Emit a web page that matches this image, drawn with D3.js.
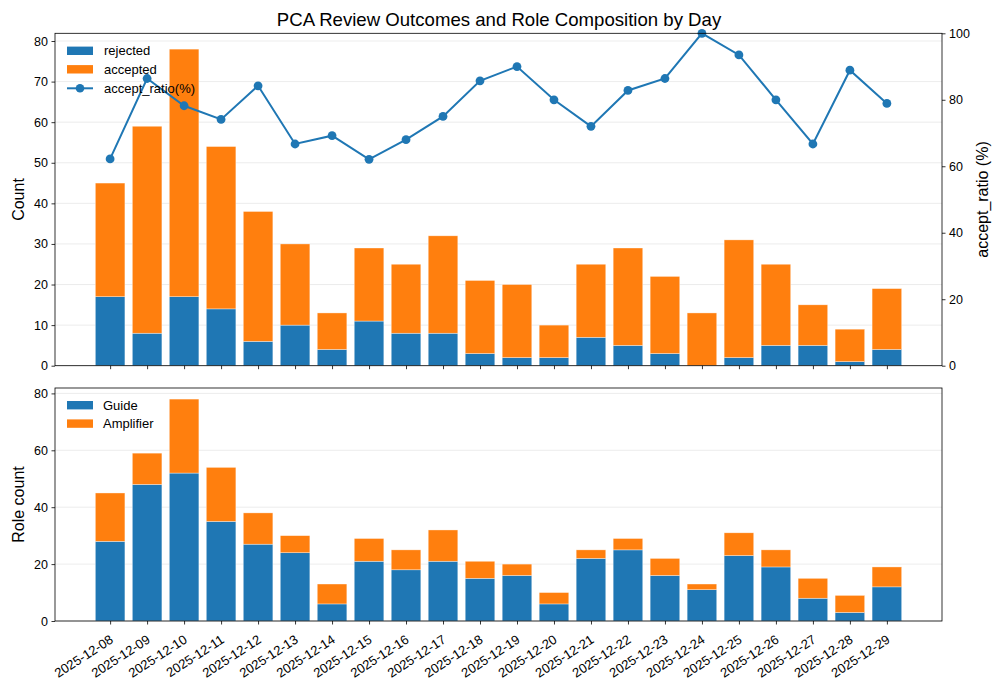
<!DOCTYPE html>
<html>
<head>
<meta charset="utf-8">
<script src="https://cdn.jsdelivr.net/npm/d3@7/dist/d3.min.js"></script>
<style>
  body { margin: 0; background: #fff; }
  svg { display: block; font-family: "Liberation Sans", Arial, sans-serif; }
</style>
</head>
<body>
<svg id="chart" width="995" height="682"></svg>
<script>
const dates = ["2025-12-08","2025-12-09","2025-12-10","2025-12-11","2025-12-12","2025-12-13","2025-12-14",
  "2025-12-15","2025-12-16","2025-12-17","2025-12-18","2025-12-19","2025-12-20","2025-12-21",
  "2025-12-22","2025-12-23","2025-12-24","2025-12-25","2025-12-26","2025-12-27","2025-12-28","2025-12-29"];
const rejected = [17, 8, 17, 14, 6, 10, 4, 11, 8, 8, 3, 2, 2, 7, 5, 3, 0, 2, 5, 5, 1, 4];
const accepted = [28, 51, 61, 40, 32, 20, 9, 18, 17, 24, 18, 18, 8, 18, 24, 19, 13, 29, 20, 10, 8, 15];
const acceptRatio = [62.2, 86.4, 78.2, 74.1, 84.2, 66.7, 69.2, 62.1, 68.0, 75.0, 85.7, 90.0, 80.0, 72.0,
  82.8, 86.4, 100.0, 93.5, 80.0, 66.7, 88.9, 78.9];
const guide = [28, 48, 52, 35, 27, 24, 6, 21, 18, 21, 15, 16, 6, 22, 25, 16, 11, 23, 19, 8, 3, 12];
const amplifier = [17, 11, 26, 19, 11, 6, 7, 8, 7, 11, 6, 4, 4, 3, 4, 6, 2, 8, 6, 7, 6, 7];
const countTicks = [0, 10, 20, 30, 40, 50, 60, 70, 80];
const ratioTicks = [0, 20, 40, 60, 80, 100];
const roleTicks = [0, 20, 40, 60, 80];

const BLUE = "#1f77b4", ORANGE = "#ff7f0e";
const svg = d3.select("#chart");
const L = 55, R = 942;
const top1 = 33.3, bot1 = 365.7, top2 = 388, bot2 = 621;
const n = dates.length;
const barW = 0.8;
const pad = 0.05 * (n - 1 + barW);
const x = d3.scaleLinear().domain([-barW / 2 - pad, n - 1 + barW / 2 + pad]).range([L, R]);
const bw = x(barW) - x(0);
const totals = rejected.map((r, i) => r + accepted[i]);
const ymax = d3.max(totals) * 1.05;
const y1 = d3.scaleLinear().domain([0, ymax]).range([bot1, top1]);
const yR = d3.scaleLinear().domain([0, 100]).range([bot1, top1]);
const roleTotals = guide.map((g, i) => g + amplifier[i]);
const y2 = d3.scaleLinear().domain([0, d3.max(roleTotals) * 1.05]).range([bot2, top2]);
const TICK_FS = 12.5;

// title
svg.append("text").attr("x", 499).attr("y", 26).attr("text-anchor", "middle")
  .attr("font-size", 18.6).attr("fill", "#000").text("PCA Review Outcomes and Role Composition by Day");

function grid(g, scale, ticks) {
  g.selectAll("line.grid").data(ticks).join("line").attr("class", "grid")
    .attr("x1", L).attr("x2", R).attr("y1", d => scale(d)).attr("y2", d => scale(d))
    .attr("stroke", "#b0b0b0").attr("stroke-opacity", 0.3).attr("stroke-width", 0.8);
}
function styleAxis(g) {
  g.select(".domain").remove();
  g.selectAll(".tick line").attr("stroke", "#000").attr("stroke-width", 0.8);
  g.selectAll(".tick text").attr("font-size", TICK_FS).attr("fill", "#000").attr("font-family", "Liberation Sans, Arial, sans-serif");
}
function stacked(g, lower, upper, scale) {
  const edge = (sel) => sel.attr("stroke", "#fff").attr("stroke-width", 0.6).attr("stroke-opacity", 0.6);
  g.selectAll("rect.lo").data(lower).join("rect").attr("class", "lo")
    .attr("x", (d, i) => x(i) - bw / 2).attr("width", bw)
    .attr("y", d => scale(d)).attr("height", d => scale(0) - scale(d)).attr("fill", BLUE).call(edge);
  g.selectAll("rect.up").data(upper).join("rect").attr("class", "up")
    .attr("x", (d, i) => x(i) - bw / 2).attr("width", bw)
    .attr("y", (d, i) => scale(lower[i] + d)).attr("height", (d, i) => scale(lower[i]) - scale(lower[i] + d))
    .attr("fill", ORANGE).call(edge);
}

// ---- top panel
const p1 = svg.append("g");
grid(p1, y1, countTicks);
stacked(p1, rejected, accepted, y1);

// legend top
const lg1 = svg.append("g").attr("font-size", 13);
[["rejected", BLUE], ["accepted", ORANGE]].forEach(([t, c], k) => {
  const cy = 50.8 + k * 18.5;
  lg1.append("rect").attr("x", 67).attr("y", cy - 4.2).attr("width", 26).attr("height", 8.4).attr("fill", c);
  lg1.append("text").attr("x", 104).attr("y", cy + 4.6).text("" + t);
});
{
  const cy = 88.3;
  lg1.append("line").attr("x1", 67).attr("x2", 93).attr("y1", cy).attr("y2", cy).attr("stroke", BLUE).attr("stroke-width", 2);
  lg1.append("circle").attr("cx", 80).attr("cy", cy).attr("r", 4.3).attr("fill", BLUE);
  lg1.append("text").attr("x", 104).attr("y", cy + 4.6).text("accept_ratio(%)");
}

// line
const line = d3.line().x((d, i) => x(i)).y(d => yR(d));
p1.append("path").datum(acceptRatio).attr("d", line).attr("fill", "none").attr("stroke", BLUE).attr("stroke-width", 2);
p1.selectAll("circle.pt").data(acceptRatio).join("circle").attr("class", "pt")
  .attr("cx", (d, i) => x(i)).attr("cy", d => yR(d)).attr("r", 4.4).attr("fill", BLUE);

svg.append("rect").attr("x", L).attr("y", top1).attr("width", R - L).attr("height", bot1 - top1)
  .attr("fill", "none").attr("stroke", "#000").attr("stroke-width", 0.8);
svg.append("g").attr("transform", `translate(${L},0)`)
  .call(d3.axisLeft(y1).tickValues(countTicks).tickSize(3.5).tickPadding(3.5)).call(styleAxis);
svg.append("g").attr("transform", `translate(${R},0)`)
  .call(d3.axisRight(yR).tickValues(ratioTicks).tickSize(3.5).tickPadding(3.5)).call(styleAxis);
svg.append("g").attr("transform", `translate(0,${bot1})`)
  .call(d3.axisBottom(x).tickValues(d3.range(n)).tickSize(3.5).tickFormat(() => "")).call(styleAxis);

svg.append("text").attr("transform", `translate(23.5,${(top1 + bot1) / 2}) rotate(-90)`)
  .attr("text-anchor", "middle").attr("font-size", 16).text("Count");
svg.append("text").attr("transform", `translate(987.5,${(top1 + bot1) / 2}) rotate(-90)`)
  .attr("text-anchor", "middle").attr("font-size", 16).text("accept_ratio (%)");

// ---- bottom panel
const p2 = svg.append("g");
grid(p2, y2, roleTicks);
stacked(p2, guide, amplifier, y2);

const lg2 = svg.append("g").attr("font-size", 13);
[["Guide", BLUE], ["Amplifier", ORANGE]].forEach(([t, c], k) => {
  const cy = 405.2 + k * 18.4;
  lg2.append("rect").attr("x", 67).attr("y", cy - 4.2).attr("width", 26).attr("height", 8.4).attr("fill", c);
  lg2.append("text").attr("x", 103).attr("y", cy + 4.6).text(t);
});

svg.append("rect").attr("x", L).attr("y", top2).attr("width", R - L).attr("height", bot2 - top2)
  .attr("fill", "none").attr("stroke", "#000").attr("stroke-width", 0.8);
svg.append("g").attr("transform", `translate(${L},0)`)
  .call(d3.axisLeft(y2).tickValues(roleTicks).tickSize(3.5).tickPadding(3.5)).call(styleAxis);
const xb = svg.append("g").attr("transform", `translate(0,${bot2})`)
  .call(d3.axisBottom(x).tickValues(d3.range(n)).tickSize(3.5).tickFormat(i => dates[i])).call(styleAxis);
xb.selectAll(".tick text")
  .attr("font-size", 13)
  .attr("text-anchor", "end").attr("y", 0).attr("dy", 0)
  .attr("transform", "translate(3.4,20.8) rotate(-33)");

svg.append("text").attr("transform", `translate(23.5,${(top2 + bot2) / 2}) rotate(-90)`)
  .attr("text-anchor", "middle").attr("font-size", 16).text("Role count");
</script>
</body>
</html>
